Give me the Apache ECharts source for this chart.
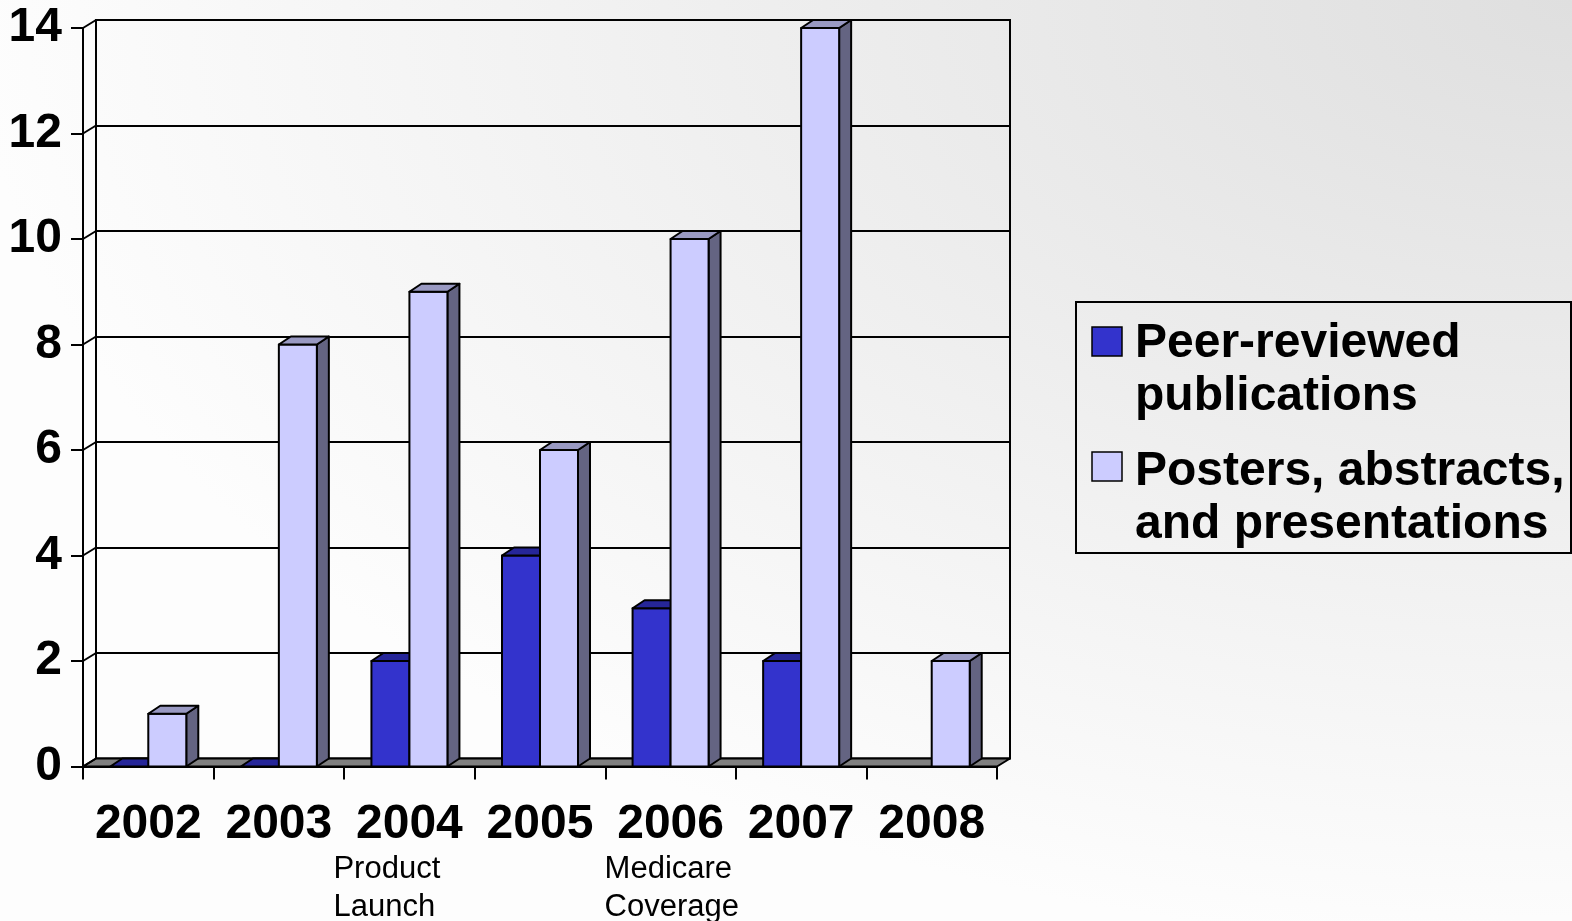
<!DOCTYPE html>
<html>
<head>
<meta charset="utf-8">
<script src="https://cdn.jsdelivr.net/npm/echarts@6/dist/echarts.min.js"></script>
<style>
  html, body {
    margin: 0; padding: 0; width: 1572px; height: 921px; overflow: hidden;
    background: radial-gradient(ellipse 1600px 950px at 100% 0%, #dfdfdf 0%, #fdfdfd 100%);
  }
  #chart { width: 1572px; height: 921px; }
</style>
</head>
<body>
<div id="chart"></div>
<script>
// ---- data ----
const years = ['2002', '2003', '2004', '2005', '2006', '2007', '2008'];
const peerReviewed = [0, 0, 2, 4, 3, 2, null];
const posters = [1, 8, 9, 6, 10, 14, 2];
const yTicks = [0, 2, 4, 6, 8, 10, 12, 14];
const seriesNames = ['Peer-reviewed\npublications', 'Posters, abstracts,\nand presentations'];
const annotations = [
  { year: '2004', text: 'Product\nLaunch' },
  { year: '2006', text: 'Medicare\nCoverage' }
];

// ---- look ----
const FONT = "'Liberation Sans', Arial, Helvetica, sans-serif";
const WALL_DX = 13, WALL_DY = 8;     // depth of the floor / side wall
const BAR_DX = 12, BAR_DY = 8;       // depth of each column
const BAR_FRACTION = 0.291;          // column width relative to category band
const LINE_W = 2;
const EDGE = { stroke: '#000', lineWidth: LINE_W, lineJoin: 'round' };
const palette = {
  peer:   { front: '#3333CC', top: '#262699', side: '#1f1f7a' },
  poster: { front: '#CCCCFF', top: '#9999C2', side: '#646482' }
};

const yMin = yTicks[0], yMax = yTicks[yTicks.length - 1], yStep = yTicks[1] - yTicks[0];

// one 3D column: front face, right side face, top face
function columnRenderer(side, colors) {
  return function (params, api) {
    const v = api.value(1);
    if (v == null || isNaN(v)) return null;
    const base = api.coord([api.value(0), 0]);
    const top = api.coord([api.value(0), v]);
    const band = api.size([1, 0])[0];
    const w = band * BAR_FRACTION;
    const x0 = side < 0 ? base[0] - w : base[0];
    const x1 = x0 + w;
    const yb = base[1], yt = top[1];
    const children = [];
    if (yb - yt > 0.5) {
      children.push({
        type: 'polygon',
        shape: { points: [[x1, yb], [x1 + BAR_DX, yb - BAR_DY], [x1 + BAR_DX, yt - BAR_DY], [x1, yt]] },
        style: Object.assign({ fill: colors.side }, EDGE)
      });
      children.push({
        type: 'rect',
        shape: { x: x0, y: yt, width: w, height: yb - yt },
        style: Object.assign({ fill: colors.front }, EDGE)
      });
    }
    children.push({
      type: 'polygon',
      shape: { points: [[x0, yt], [x1, yt], [x1 + BAR_DX, yt - BAR_DY], [x0 + BAR_DX, yt - BAR_DY]] },
      style: Object.assign({ fill: colors.top }, EDGE)
    });
    return { type: 'group', children };
  };
}

// floor slab and the slanted side-wall gridlines
function frameRenderer(params, api) {
  const cs = params.coordSys;
  const left = cs.x, right = cs.x + cs.width, bottom = cs.y + cs.height;
  const children = [{
    type: 'polygon',
    shape: { points: [[left, bottom], [right, bottom], [right + WALL_DX, bottom - WALL_DY], [left + WALL_DX, bottom - WALL_DY]] },
    style: Object.assign({ fill: '#808080' }, EDGE)
  }];
  yTicks.forEach(function (t) {
    const p = api.coord([0, t]);
    children.push({
      type: 'line',
      shape: { x1: left, y1: p[1], x2: left + WALL_DX, y2: p[1] - WALL_DY },
      style: { stroke: '#000', lineWidth: LINE_W }
    });
  });
  return { type: 'group', children };
}

const chart = echarts.init(document.getElementById('chart'), null, { renderer: 'canvas' });

const option = {
  backgroundColor: 'transparent',
  animation: false,
  grid: [
    { left: 83, top: 28, width: 914, height: 738.5, show: false },
    { left: 96, top: 20, width: 914, height: 738.5, show: true,
      borderColor: '#000', borderWidth: LINE_W, backgroundColor: 'transparent' }
  ],
  xAxis: [
    {
      type: 'category', gridIndex: 0, data: years, boundaryGap: true,
      axisLine: { show: true, lineStyle: { color: '#000', width: LINE_W } },
      axisTick: { show: true, length: 13, inside: false, lineStyle: { color: '#000', width: LINE_W } },
      axisLabel: { interval: 0, margin: 34, color: '#000', fontSize: 48, fontWeight: 'bold', fontFamily: FONT },
      splitLine: { show: false }
    },
    {
      type: 'category', gridIndex: 1, data: years, show: false
    }
  ],
  yAxis: [
    {
      type: 'value', gridIndex: 0, min: yMin, max: yMax, interval: yStep,
      axisLine: { show: true, lineStyle: { color: '#000', width: LINE_W } },
      axisTick: { show: true, length: 12, inside: false, lineStyle: { color: '#000', width: LINE_W } },
      axisLabel: { margin: 21, color: '#000', fontSize: 48, fontWeight: 'bold', fontFamily: FONT },
      splitLine: { show: false }
    },
    {
      type: 'value', gridIndex: 1, min: yMin, max: yMax, interval: yStep,
      axisLine: { show: false }, axisTick: { show: false }, axisLabel: { show: false },
      splitLine: { show: true, lineStyle: { color: '#000', width: LINE_W } }
    }
  ],
  series: [
    {
      type: 'custom', name: 'frame', xAxisIndex: 0, yAxisIndex: 0, z: 1,
      silent: true, renderItem: frameRenderer, data: [[0, 0]]
    },
    {
      type: 'custom', name: seriesNames[0], xAxisIndex: 0, yAxisIndex: 0, z: 3,
      renderItem: columnRenderer(-1, palette.peer),
      encode: { x: 0, y: 1 },
      data: peerReviewed.map(function (v, i) { return [i, v == null ? NaN : v]; })
    },
    {
      type: 'custom', name: seriesNames[1], xAxisIndex: 0, yAxisIndex: 0, z: 4,
      renderItem: columnRenderer(1, palette.poster),
      encode: { x: 0, y: 1 },
      data: posters.map(function (v, i) { return [i, v]; })
    }
  ]
};
chart.setOption(option);

// ---- legend box and event notes ----
const legendBox = { x: 1076, y: 302, width: 495, height: 251 };
const legendItems = [
  { name: seriesNames[0], color: palette.peer.front, markerY: 327, textY: 317 },
  { name: seriesNames[1], color: palette.poster.front, markerY: 452, textY: 445 }
];
const noteShift = { '2004': -76, '2006': -66 };
const noteTop = 850;

const graphics = [{
  type: 'rect', z: 10,
  shape: legendBox,
  style: { fill: 'none', stroke: '#000', lineWidth: LINE_W }
}];
legendItems.forEach(function (it) {
  graphics.push({
    type: 'rect', z: 10,
    shape: { x: 1092, y: it.markerY, width: 30, height: 29 },
    style: { fill: it.color, stroke: '#000', lineWidth: 1.5 }
  });
  graphics.push({
    type: 'text', z: 10, x: 1135, y: it.textY,
    style: {
      text: it.name, fill: '#000', fontSize: 48, fontWeight: 'bold', fontFamily: FONT,
      lineHeight: 53, align: 'left', verticalAlign: 'top', textAlign: 'left', textVerticalAlign: 'top'
    }
  });
});
annotations.forEach(function (a) {
  const cx = chart.convertToPixel({ xAxisIndex: 0 }, a.year);
  graphics.push({
    type: 'text', z: 10, x: cx + (noteShift[a.year] || 0), y: noteTop,
    style: {
      text: a.text, fill: '#000', fontSize: 31, fontFamily: FONT,
      lineHeight: 38, align: 'left', verticalAlign: 'top', textAlign: 'left', textVerticalAlign: 'top'
    }
  });
});
chart.setOption({ graphic: graphics });
</script>
</body>
</html>
